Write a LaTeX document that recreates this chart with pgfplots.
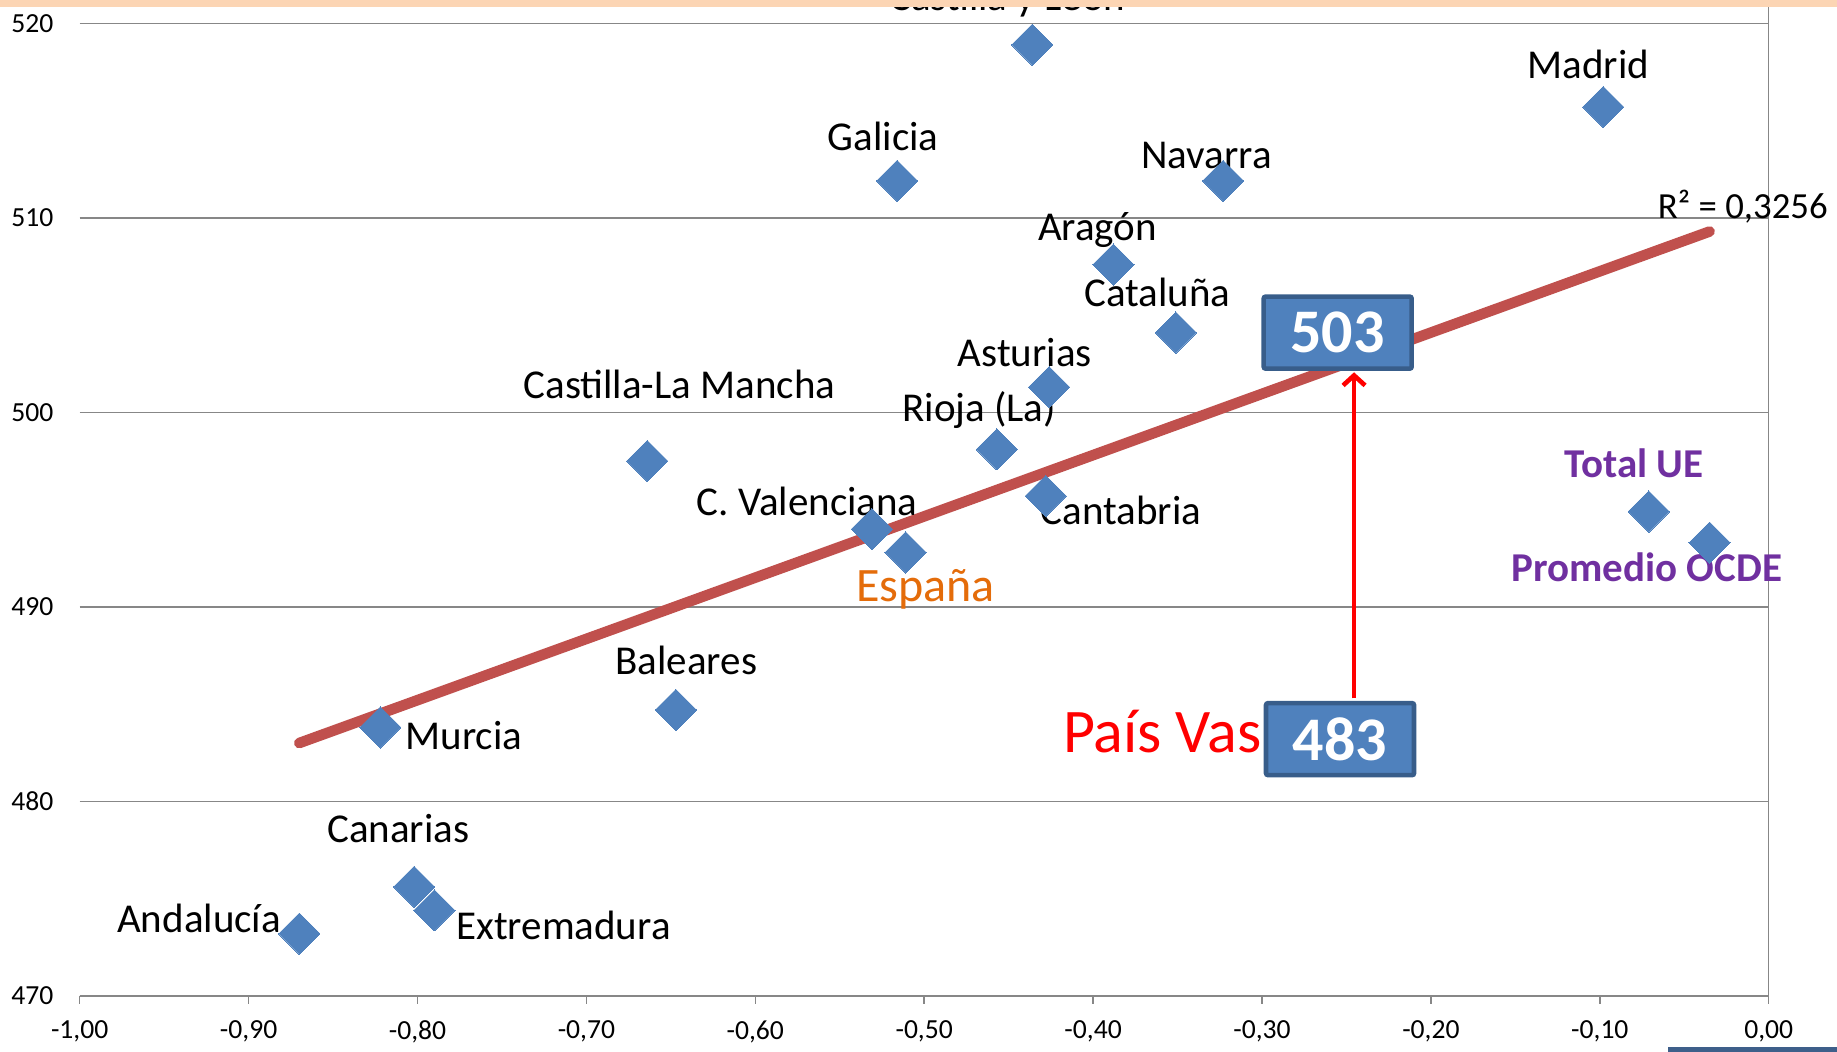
\documentclass[border=0pt]{standalone}
\usepackage{pgfplots}
\pgfplotsset{compat=1.18}
\usetikzlibrary{arrows.meta}
\usepackage{fontspec}
\setmainfont{Carlito}
\definecolor{mblue}{HTML}{4F81BD}
\definecolor{mborder}{HTML}{385D8A}
\definecolor{trend}{HTML}{C0504D}
\definecolor{gridc}{HTML}{878787}
\definecolor{band}{HTML}{FCD5B4}
\definecolor{orangeE}{HTML}{E46C0A}
\definecolor{purp}{HTML}{7030A0}
\definecolor{darkb}{HTML}{3E5F8A}
\pgfplotstableread{
x y
-0.436 518.9
-0.098 515.7
-0.516 511.9
-0.323 511.9
-0.388 507.6
-0.351 504.1
-0.426 501.3
-0.457 498.1
-0.664 497.5
-0.428 495.7
-0.531 494.0
-0.511 492.8
-0.071 494.9
-0.035 493.3
-0.647 484.7
-0.822 483.8
-0.802 475.6
-0.790 474.4
-0.870 473.2
}\datatable
\begin{document}
\begin{tikzpicture}[x=1pt,y=1pt]
\useasboundingbox (0,0) rectangle (918.5,526);
\begin{axis}[at={(39.85pt,28.05pt)}, anchor=south west,
  width=844.5pt, height=486.25pt, scale only axis,
  xmin=-1, xmax=0, ymin=470, ymax=520, clip=false,
  axis line style={draw=none},
  ymajorgrids, grid style={gridc, line width=0.75pt},
  xtick={-1,-0.9,-0.8,-0.7,-0.6,-0.5,-0.4,-0.3,-0.2,-0.1,0},
  xticklabels={{-1,00},{-0,90},{-0,80},{-0,70},{-0,60},{-0,50},{-0,40},{-0,30},{-0,20},{-0,10},{0,00}},
  ytick={470,480,490,500,510,520},
  yticklabels={470,480,490,500,510,520},
  xtick pos=lower, tick align=outside, major tick length=4pt,
  xtick style={gridc, line width=0.75pt},
  ytick style={draw=none},
  tick label style={font=\fontsize{13.8}{16}\selectfont},
  xticklabel style={yshift=-5pt},
  yticklabel style={xshift=-5.7pt},
]
\draw[gridc, line width=0.75pt] (axis cs:-1,470) -- (axis cs:0,470);
\draw[gridc, line width=0.75pt] (axis cs:0,470) -- ([yshift=12pt]axis cs:0,520);
\addplot[only marks, mark=square*, mark size=7.3pt, mark options={rotate=45, draw=mblue, fill=mblue, line width=0pt}] table[x=x,y=y] {\datatable};
\addplot[trend, line width=5.3pt, line cap=round] coordinates {(-0.870,483.0) (-0.035,509.3)};
\begin{scope}[every node/.style={font=\fontsize{20.5}{24}\selectfont, inner sep=0pt}]
\node[anchor=base] at (axis cs:-0.4508,520) [yshift=6.2pt] {Castilla y León};
\node at (axis cs:-0.1068,517.9) {Madrid};
\node at (axis cs:-0.5243,514.2) {Galicia};
\node at (axis cs:-0.3329,513.2) {Navarra};
\node at (axis cs:-0.3974,509.4) {Aragón};
\node at (axis cs:-0.362,506.15) {Cataluña};
\node at (axis cs:-0.4404,503.1) {Asturias};
\node at (axis cs:-0.4674,500.1) {Rioja (La)};
\node at (axis cs:-0.6449,501.45) {Castilla-La Mancha};
\node at (axis cs:-0.5693,495.4) {C. Valenciana};
\node at (axis cs:-0.3835,494.95) {Cantabria};
\node[text=orangeE, font=\fontsize{24}{28}\selectfont] at (axis cs:-0.4993,490.9) {España};
\node[text=purp, font=\fontsize{20.5}{24}\selectfont\bfseries] at (axis cs:-0.0798,497.4) {Total UE};
\node[text=purp, font=\fontsize{20.5}{24}\selectfont\bfseries] at (axis cs:-0.0721,492.05) {Promedio OCDE};
\node at (axis cs:-0.6408,487.25) {Baleares};
\node at (axis cs:-0.7725,483.4) {Murcia};
\node at (axis cs:-0.8114,478.6) {Canarias};
\node at (axis cs:-0.7136,473.6) {Extremadura};
\node at (axis cs:-0.9293,474.0) {Andalucía};
\node[font=\fontsize{18.4}{22}\selectfont] at (axis cs:-0.0153,510.6) {R² = 0,3256};
\end{scope}
\draw[red, line width=2.3pt, -{Straight Barb[length=5pt,width=11pt]}] (axis cs:-0.2455,485.3) -- (axis cs:-0.2455,502.06);
\node[anchor=west, text=red, font=\fontsize{31}{36}\selectfont, inner sep=0pt] at (axis cs:-0.418,483.6) {País Vas};
\node[fill=mblue, draw=mborder, line width=2.3pt, rounded corners=1pt, minimum width=74pt, minimum height=36pt, inner sep=0pt, text=white, font=\fontsize{31}{36}\selectfont\bfseries] at (axis cs:-0.2552,504.1) {503};
\node[fill=mblue, draw=mborder, line width=2.3pt, rounded corners=1pt, minimum width=74pt, minimum height=36pt, inner sep=0pt, text=white, font=\fontsize{31}{36}\selectfont\bfseries] at (axis cs:-0.2538,483.2) {483};
\end{axis}
\fill[band] (0,522.6) rectangle (918.5,526);
\fill[darkb] (834,0) rectangle (918.5,2.6);
\end{tikzpicture}
\end{document}
